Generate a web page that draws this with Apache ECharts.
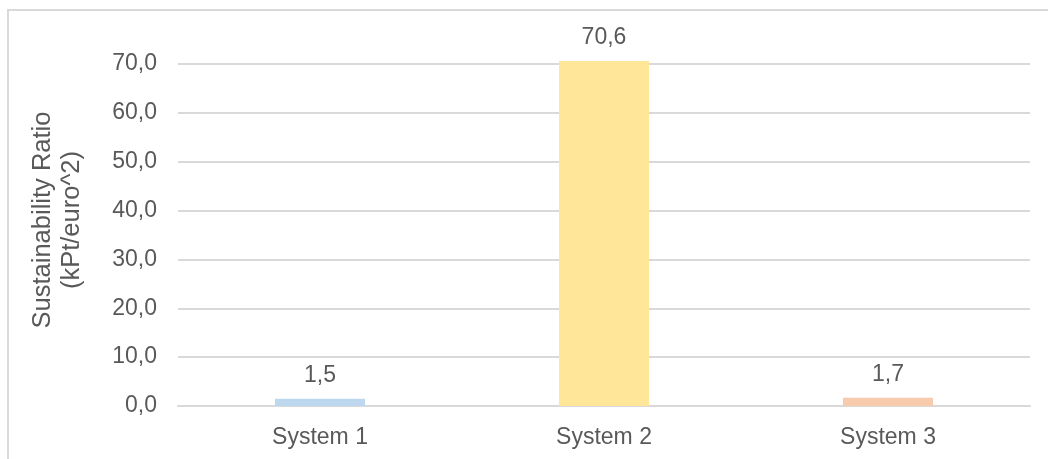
<!DOCTYPE html>
<html>
<head>
<meta charset="utf-8">
<script src="https://cdn.jsdelivr.net/npm/echarts@6/dist/echarts.min.js"></script>
<style>
  html, body { margin: 0; padding: 0; background: #ffffff; }
  #chart { width: 1048px; height: 459px; }
</style>
</head>
<body>
<div id="chart"></div>
<script>
// Sustainability ratio per system
const categories = ['System 1', 'System 2', 'System 3'];
const ratioValues = [1.5, 70.6, 1.7];
const barColors = ['#BDD7EE', '#FFE699', '#F8CBAD'];
const yTicks = { min: 0, max: 70, interval: 10 };
const axisTitle = 'Sustainability Ratio\n(kPt/euro^2)';

const fmt = v => v.toFixed(1).replace('.', ',');
const textColor = '#595959';
const fontFamily = '"Liberation Sans", Arial, sans-serif';

const chart = echarts.init(document.getElementById('chart'), null, { renderer: 'canvas' });

chart.setOption({
  backgroundColor: '#ffffff',
  animation: false,
  textStyle: { fontFamily: fontFamily },
  grid: { left: 178, right: 18, top: 64, bottom: 53, containLabel: false },
  xAxis: {
    type: 'category',
    data: categories,
    axisLine: { show: true, lineStyle: { color: '#D9D9D9', width: 2 } },
    axisTick: { show: false },
    axisLabel: { color: textColor, fontSize: 23, margin: 20, fontFamily: fontFamily }
  },
  yAxis: {
    type: 'value',
    min: yTicks.min,
    max: yTicks.max,
    interval: yTicks.interval,
    axisLine: { show: false },
    axisTick: { show: false },
    axisLabel: { color: textColor, fontSize: 23, margin: 21, fontFamily: fontFamily, formatter: v => fmt(v) },
    splitLine: { show: true, lineStyle: { color: '#D9D9D9', width: 2 } }
  },
  series: [{
    type: 'bar',
    clip: false,
    data: ratioValues.map((v, i) => ({ value: v, itemStyle: { color: barColors[i] } })),
    barWidth: '31.7%',
    label: {
      show: true,
      position: 'top',
      distance: 12,
      color: textColor,
      fontSize: 23,
      fontFamily: fontFamily,
      formatter: p => fmt(p.value)
    }
  }],
  graphic: [
    {
      type: 'rect',
      silent: true,
      shape: { x: 8, y: 10, width: 1100, height: 500 },
      style: { fill: 'none', stroke: '#D9D9D9', lineWidth: 2 },
      z: -10
    },
    {
      type: 'text',
      silent: true,
      x: 57,
      y: 220,
      rotation: Math.PI / 2,
      style: {
        text: axisTitle,
        fill: textColor,
        fontSize: 25.5,
        fontFamily: fontFamily,
        align: 'center',
        verticalAlign: 'middle',
        lineHeight: 29
      }
    }
  ]
});
</script>
</body>
</html>
